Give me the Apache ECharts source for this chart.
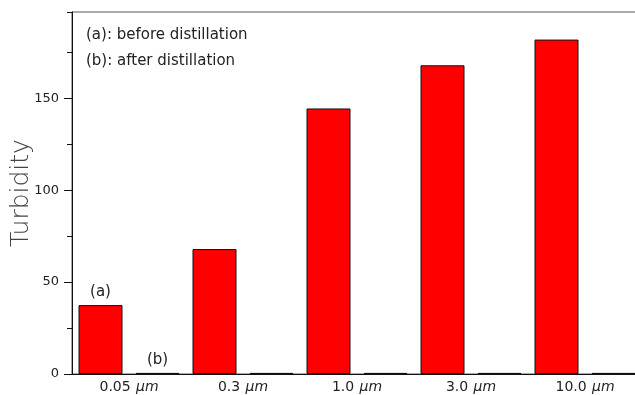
<!DOCTYPE html>
<html><head><meta charset="utf-8">
<script src="https://cdn.jsdelivr.net/npm/echarts@6/dist/echarts.min.js"></script>
<style>html,body{margin:0;padding:0;background:#fff}#c{width:635px;height:395px}</style>
</head><body><div id="c"></div>
<script>
var categories = ['0.05', '0.3', '1.0', '3.0', '10.0'];
var beforeValues = [37.5, 68, 144.5, 168, 182];
var afterValues = [0.6, 0.6, 0.6, 0.6, 0.6];
var yTickLabels = [0, 50, 100, 150];

var slots = [];
var aData = [], bData = [];
categories.forEach(function (c, i) {
  slots.push(c + 'a', c + 'b');
  aData.push(i === 0 ? {value: beforeValues[i], label: {show: true, formatter: '(a)'}} : beforeValues[i], '-');
  bData.push('-', i === 0 ? {value: afterValues[i], label: {show: true, formatter: '(b)'}} : afterValues[i]);
});

var FONT = 'DejaVu Sans';
var chart = echarts.init(document.getElementById('c'));
chart.setOption({
  animation: false,
  grid: {left: 72, top: 12, width: 570, height: 362, show: true, borderColor: '#555', borderWidth: 1,
         containLabel: false, outerBoundsMode: 'none'},
  xAxis: [{
    type: 'category', data: slots, boundaryGap: true,
    axisLine: {lineStyle: {color: '#111', width: 1}},
    axisTick: {interval: 0, length: 4, lineStyle: {color: '#111'}},
    axisLabel: {show: false}
  }, {
    type: 'category', data: categories, position: 'bottom', boundaryGap: true,
    axisLine: {show: false}, axisTick: {show: false},
    axisLabel: {
      margin: 6, interval: 0,
      formatter: function (v) { return '{n|' + v + '} {u|μm}'; },
      rich: {
        n: {fontFamily: FONT, fontSize: 14, color: '#222'},
        u: {fontFamily: FONT, fontSize: 14, fontStyle: 'italic', color: '#222', padding: [0, 0, 0, 2]}
      }
    }
  }],
  yAxis: [{
    type: 'value', min: 0, max: 197, interval: 50,
    name: 'Turbidity', nameLocation: 'middle', nameGap: 38, nameMoveOverlap: false,
    nameTextStyle: {fontFamily: 'DejaVu Sans', fontSize: 25, color: '#444', fontWeight: 300},
    axisLine: {show: true, lineStyle: {color: '#111'}},
    axisTick: {show: true, length: 8, lineStyle: {color: '#111'}},
    splitLine: {show: false},
    axisLabel: {
      margin: 13, color: '#222', fontFamily: FONT, fontSize: 13, showMaxLabel: false,
      formatter: function (v) { return yTickLabels.indexOf(v) >= 0 ? String(v) : ''; }
    }
  }, {
    type: 'value', min: 0, max: 197, interval: 25, position: 'left',
    axisLine: {show: false}, axisLabel: {show: false}, splitLine: {show: false},
    axisTick: {show: true, length: 5, lineStyle: {color: '#111'}}
  }],
  series: [{
    type: 'bar', data: aData, xAxisIndex: 0, yAxisIndex: 0, barWidth: 44, barGap: '-100%',
    itemStyle: {color: '#ff0000', borderColor: '#111', borderWidth: 1},
    label: {position: 'top', distance: 5, fontFamily: FONT, fontSize: 15, color: '#222'}
  }, {
    type: 'bar', data: bData, xAxisIndex: 0, yAxisIndex: 0, barWidth: 44, barGap: '-100%',
    itemStyle: {color: '#111', borderColor: '#111', borderWidth: 1},
    label: {position: 'top', distance: 5, fontFamily: FONT, fontSize: 15, color: '#222'}
  }],
  graphic: [
    {type: 'text', left: 86, top: 28, style: {text: '(a): before distillation', font: '15px "DejaVu Sans"', fill: '#222'}},
    {type: 'text', left: 86, top: 54, style: {text: '(b): after distillation', font: '15px "DejaVu Sans"', fill: '#222'}}
  ]
});
</script></body></html>
